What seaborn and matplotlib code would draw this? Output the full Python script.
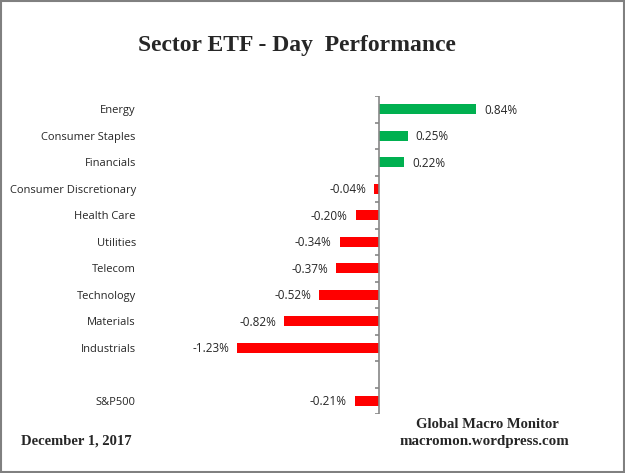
import matplotlib
matplotlib.use("Agg")
import matplotlib.pyplot as plt
import seaborn as sns
import pandas as pd
from matplotlib.patches import Rectangle

categories = ["Energy", "Consumer Staples", "Financials", "Consumer Discretionary",
              "Health Care", "Utilities", "Telecom", "Technology", "Materials",
              "Industrials", "S&P500"]
values = [0.84, 0.25, 0.22, -0.04, -0.20, -0.34, -0.37, -0.52, -0.82, -1.23, -0.21]
row_order = ["Energy", "Consumer Staples", "Financials", "Consumer Discretionary",
             "Health Care", "Utilities", "Telecom", "Technology", "Materials",
             "Industrials", " ", "S&P500"]

sns.set_style("white")
plt.rcParams['font.family'] = ['Open Sans', 'DejaVu Sans']

df = pd.DataFrame({"sector": categories, "value": values})
df["sign"] = ["pos" if v >= 0 else "neg" for v in df["value"]]

fig = plt.figure(figsize=(6.25, 4.73), dpi=100)
W, H = 625, 473
left_px, right_px, top_px, bot_px = 140, 520, 96, 414
ax = fig.add_axes([left_px / W, 1 - bot_px / H, (right_px - left_px) / W, (bot_px - top_px) / H])

sns.barplot(data=df, x="value", y="sector", hue="sign", order=row_order,
            palette={"pos": "#00B050", "neg": "#FF0000"}, dodge=False,
            width=0.38, legend=False, ax=ax, orient="h", saturation=1,
            linewidth=0)

scale = 115.5  # px per 1%
ax.set_xlim((left_px - 379) / scale, (right_px - 379) / scale)
ax.set_ylim(len(row_order) - 0.5, -0.5)

for s in ax.spines.values():
    s.set_visible(False)
ax.xaxis.set_visible(False)
ax.set_xlabel("")
ax.set_ylabel("")
ax.tick_params(axis="y", length=0, pad=3, labelsize=8)

ax.axvline(0, color="#868686", lw=1.2)
tick_len = 4 / scale
ax.hlines([i - 0.5 for i in range(len(row_order) + 1)], -tick_len, 0,
          color="#868686", lw=1.2)

off = 8 / scale
for cat, v in zip(categories, values):
    y = row_order.index(cat)
    if v >= 0:
        ax.text(v + off, y + 0.04, f"{v:.2f}%", va="center", ha="left", fontsize=8.5)
    else:
        ax.text(v - off, y + 0.04, f"{v:.2f}%", va="center", ha="right", fontsize=8.5)

serif = ['Liberation Serif', 'DejaVu Serif']
fig.text(297 / W, 1 - 46 / H, "Sector ETF - Day  Performance", ha="center", va="center",
         fontsize=17, fontweight="bold", family=serif)
fig.text(487 / W, 1 - 424 / H, "Global Macro Monitor", ha="center", va="center",
         fontsize=10.5, fontweight="bold", family=serif)
fig.text(484 / W, 1 - 441 / H, "macromon.wordpress.com", ha="center", va="center",
         fontsize=10.8, fontweight="bold", family=serif)
fig.text(21 / W, 1 - 441 / H, "December 1, 2017", ha="left", va="center",
         fontsize=10.5, fontweight="bold", family=serif)

fig.patches.append(Rectangle((0.001, 0.002), 0.997, 0.996, transform=fig.transFigure,
                             fill=False, edgecolor="#808080", lw=1.5))

fig.savefig("out.png", dpi=100)
